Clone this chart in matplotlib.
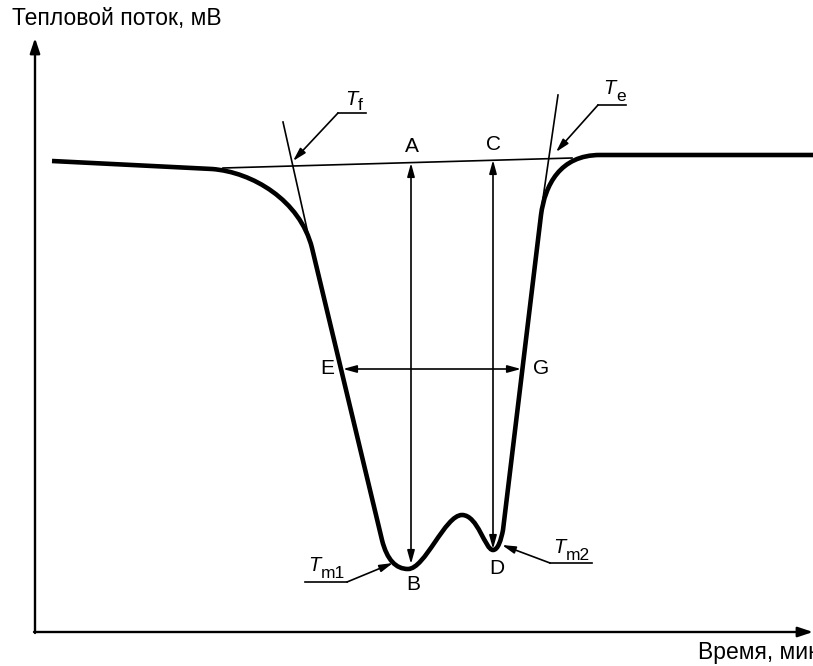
import matplotlib
matplotlib.use("Agg")
import matplotlib.pyplot as plt
from matplotlib.path import Path
from matplotlib.patches import PathPatch

plt.rcParams["font.family"] = ["Liberation Sans", "DejaVu Sans"]

# --- diagram data (in picture pixel units) ---
# heat-flow curve: (code, x, y); C = cubic bezier control/end points
curve_pts = [
    ("M", 52, 161), ("L", 212, 169),
    ("C", 252, 172), ("C", 300, 200), ("C", 312, 248),
    ("L", 382, 540),
    ("C", 387, 560), ("C", 396, 569), ("C", 408, 569),
    ("C", 425, 569), ("C", 445, 515), ("C", 462, 515),
    ("C", 478, 515), ("C", 485, 550), ("C", 493, 550),
    ("C", 498, 550), ("C", 501, 540), ("C", 503, 530),
    ("L", 541, 215),
    ("C", 545, 185), ("C", 560, 155), ("C", 600, 155),
    ("L", 813, 155),
]
baseline_x = [223, 572]
baseline_y = [168, 158]
tan_left_x = [283, 309]
tan_left_y = [122, 238]
tan_right_x = [558, 541]
tan_right_y = [95, 212]

# double-headed measuring arrows: (x0, y0, x1, y1)
arrows_AB = (411, 163, 411, 564)
arrows_CD = (493, 160, 493, 549)
arrows_EG = (343, 369, 521, 369)

point_labels = ["A", "B", "C", "D", "E", "G"]
point_x = [412, 413, 493, 497, 327, 541]
point_y = [147, 585, 145, 568, 369, 369]

# T-labels: subscript, T pos, sub pos, underline (x0, x1, y), arrow tip
t_labels = [
    ("f", (345, 105), (358, 110), (338, 366, 113), (293, 161)),
    ("e", (603, 94), (616, 101), (598, 626, 105), (556, 152)),
    ("m1", (308, 571), (321, 578), (305, 347, 582), (393, 563)),
    ("m2", (553, 553), (566, 560), (550, 592, 563), (502, 545)),
]
y_title = "Тепловой поток, мВ"
x_title = "Время, мин"

fig = plt.figure(figsize=(8.13, 6.66), dpi=100)
ax = fig.add_axes([0, 0, 1, 1])
ax.set_xlim(0, 813)
ax.set_ylim(666, 0)
ax.axis("off")

codes_map = {"M": Path.MOVETO, "L": Path.LINETO, "C": Path.CURVE4}
verts = [(x, y) for _, x, y in curve_pts]
codes = [codes_map[c] for c, _, _ in curve_pts]
ax.add_patch(PathPatch(Path(verts, codes), fill=False, lw=3.3, color="black",
                       capstyle="butt", joinstyle="round"))

ax.plot(baseline_x, baseline_y, color="black", lw=1.2)
ax.plot(tan_left_x, tan_left_y, color="black", lw=1.2)
ax.plot(tan_right_x, tan_right_y, color="black", lw=1.2)

# axes with arrows
ax.annotate("", xy=(35, 38), xytext=(35, 633),
            arrowprops=dict(arrowstyle="-|>,head_length=0.9,head_width=0.3",
                            mutation_scale=10, lw=1.7, color="black",
                            shrinkA=0, shrinkB=0))
ax.annotate("", xy=(813, 632), xytext=(34, 632),
            arrowprops=dict(arrowstyle="-|>,head_length=0.9,head_width=0.3",
                            mutation_scale=10, lw=1.7, color="black",
                            shrinkA=0, shrinkB=0))

dbl = dict(arrowstyle="<|-|>,head_length=0.8,head_width=0.22", mutation_scale=10,
           lw=1.2, color="black", shrinkA=0, shrinkB=0)
for x0, y0, x1, y1 in [arrows_AB, arrows_CD, arrows_EG]:
    ax.annotate("", xy=(x1, y1), xytext=(x0, y0), arrowprops=dbl)

for lab, x, y in zip(point_labels, point_x, point_y):
    ax.text(x, y, lab, fontsize=15, ha="center", va="center")

single = dict(arrowstyle="-|>,head_length=0.8,head_width=0.22", mutation_scale=10,
              lw=1.2, color="black", shrinkA=0, shrinkB=0)
for sub, tpos, spos, (ux0, ux1, uy), tip in t_labels:
    ax.text(tpos[0], tpos[1], "T", fontsize=14.5, style="italic", ha="left", va="baseline")
    ax.text(spos[0], spos[1], sub, fontsize=12.5, ha="left", va="baseline")
    ax.plot([ux0, ux1], [uy, uy], color="black", lw=1.2)
    # leader starts at the underline end nearest the tip
    sx = ux0 if abs(ux0 - tip[0]) < abs(ux1 - tip[0]) else ux1
    ax.annotate("", xy=tip, xytext=(sx, uy), arrowprops=single)

ax.text(12, 18, y_title, fontsize=16.5, ha="left", va="center")
ax.text(698, 652, x_title, fontsize=16.5, ha="left", va="center", clip_on=False)

plt.savefig("out.png", dpi=100)
